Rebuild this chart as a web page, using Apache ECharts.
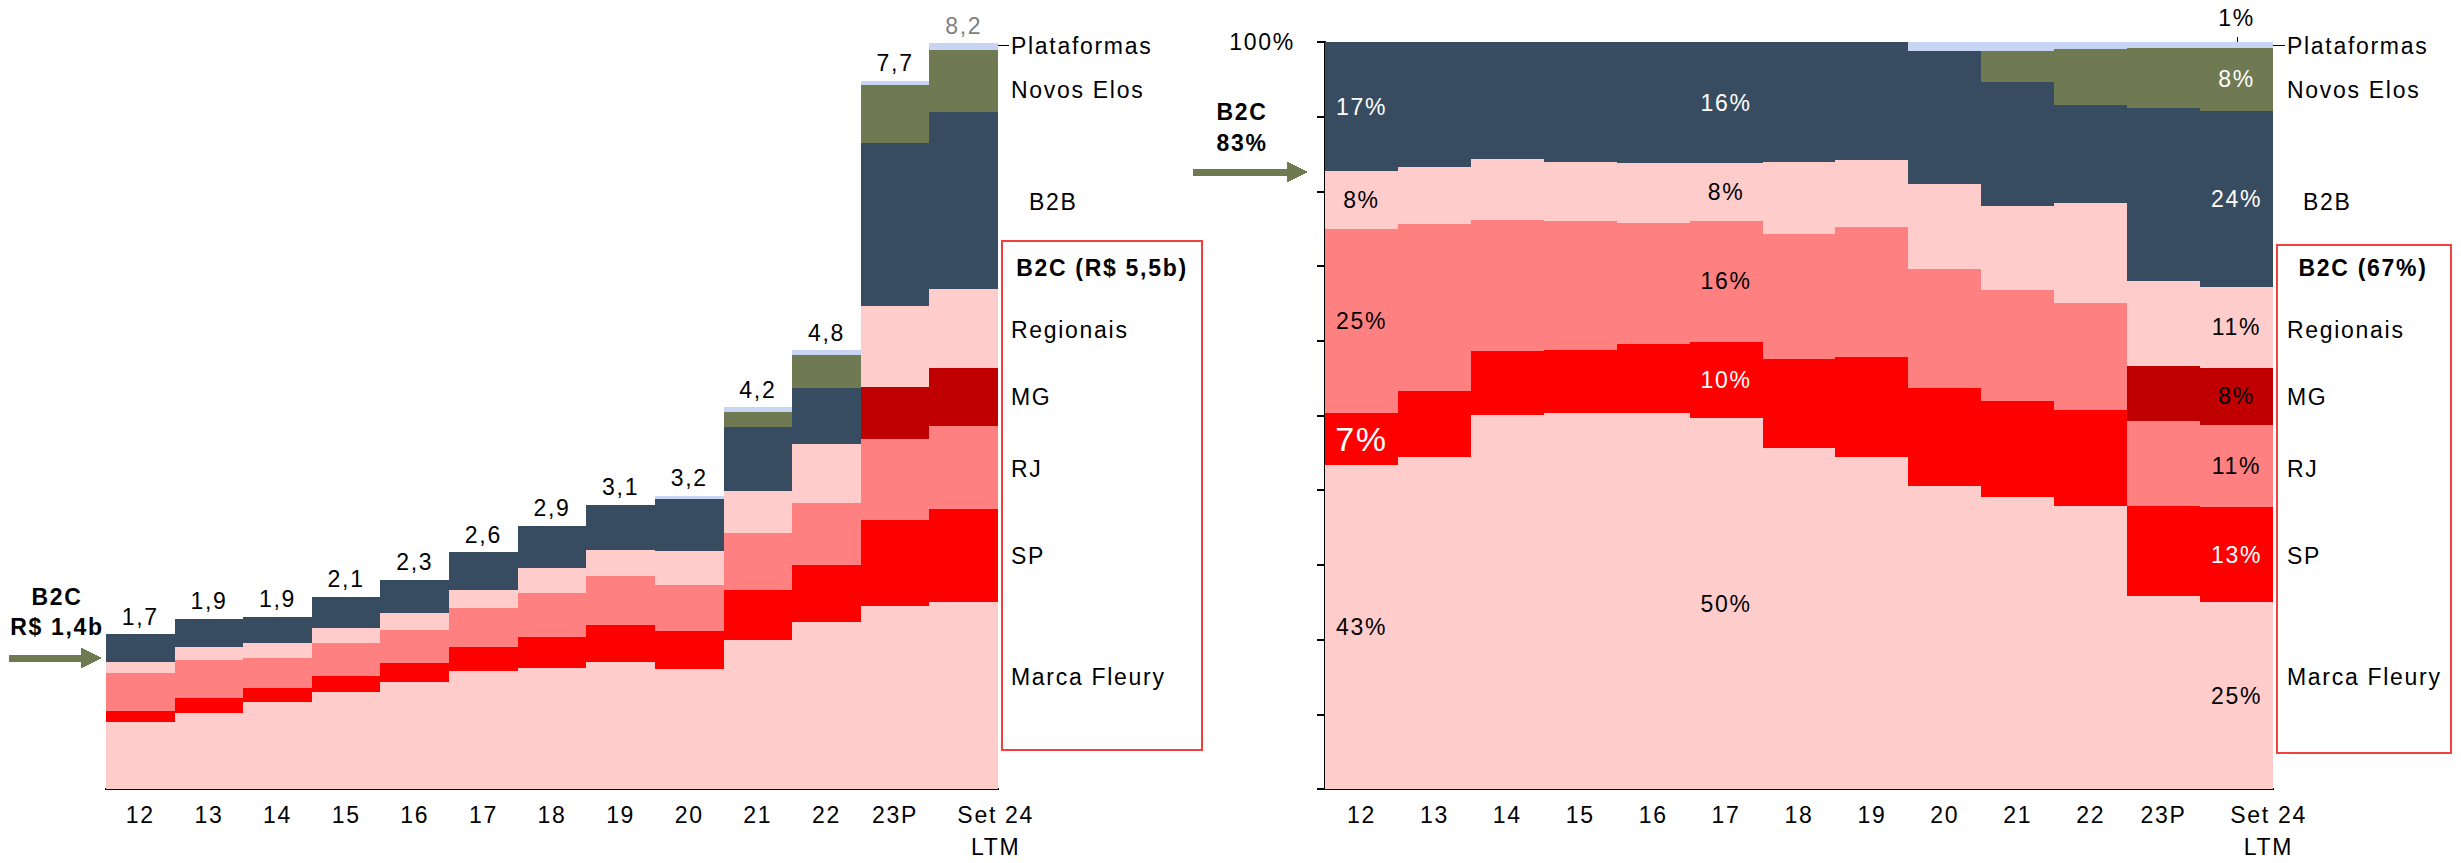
<!DOCTYPE html>
<html>
<head>
<meta charset="utf-8">
<script src="https://cdn.jsdelivr.net/npm/echarts@6/dist/echarts.min.js"></script>
<style>
  html, body { margin: 0; padding: 0; background: #fff; }
  #chart { width: 2461px; height: 863px; }
  /* texto um pouco espaçado como no original */
  #chart svg text { letter-spacing: 1.7px; }
  /* evita frestas entre colunas vizinhas */
  #chart svg path { shape-rendering: crispEdges; }
</style>
</head>
<body>
<div id="chart"></div>
<script>
// categorias (anos)
const categories = ['12', '13', '14', '15', '16', '17', '18', '19', '20', '21', '22', '23P', 'Set 24\nLTM']

// receita em R$ bilhões (gráfico da esquerda)
const marcaFleury = [0.74, 0.84, 0.95, 1.07, 1.17, 1.30, 1.33, 1.39, 1.32, 1.64, 1.83, 2.01, 2.05]
const sp          = [0.12, 0.16, 0.16, 0.17, 0.21, 0.26, 0.34, 0.41, 0.41, 0.54, 0.63, 0.94, 1.03]
const rj          = [0.41, 0.42, 0.33, 0.36, 0.37, 0.43, 0.48, 0.54, 0.51, 0.63, 0.68, 0.89, 0.91]
const mg          = [0, 0, 0, 0, 0, 0, 0, 0, 0, 0, 0, 0.58, 0.63]
const regionais   = [0.13, 0.14, 0.16, 0.17, 0.18, 0.19, 0.28, 0.28, 0.37, 0.46, 0.65, 0.88, 0.87]
const b2b         = [0.30, 0.31, 0.29, 0.34, 0.37, 0.42, 0.46, 0.50, 0.57, 0.70, 0.61, 1.79, 1.94]
const novosElos   = [0, 0, 0, 0, 0, 0, 0, 0, 0, 0.17, 0.37, 0.64, 0.69]
const plataformas = [0, 0, 0, 0, 0, 0, 0, 0, 0.04, 0.05, 0.05, 0.05, 0.07]
const totals      = [1.7, 1.9, 1.9, 2.1, 2.3, 2.6, 2.9, 3.1, 3.2, 4.2, 4.8, 7.7, 8.2]

// participação % (gráfico da direita)
const pctMarcaFleury = [43.4, 44.5, 50.1, 50.4, 50.4, 49.6, 45.7, 44.5, 40.6, 39.1, 37.9, 25.9, 25.0]
const pctSp          = [6.9, 8.8, 8.6, 8.4, 9.2, 10.3, 11.9, 13.3, 13.1, 12.8, 12.8, 12.0, 12.7]
const pctRj          = [24.6, 22.3, 17.5, 17.2, 16.2, 16.2, 16.7, 17.5, 15.9, 14.9, 14.4, 11.3, 11.0]
const pctMg          = [0, 0, 0, 0, 0, 0, 0, 0, 0, 0, 0, 7.4, 7.7]
const pctRegionais   = [7.8, 7.7, 8.1, 8.0, 8.0, 7.7, 9.7, 8.9, 11.4, 11.2, 13.3, 11.4, 10.8]
const pctB2b         = [17.3, 16.7, 15.7, 16.0, 16.2, 16.2, 16.0, 15.8, 17.8, 16.6, 13.1, 23.1, 23.6]
const pctNovosElos   = [0, 0, 0, 0, 0, 0, 0, 0, 0, 4.2, 7.5, 8.1, 8.4]
const pctPlataformas = [0, 0, 0, 0, 0, 0, 0, 0, 1.2, 1.2, 1.0, 0.8, 0.8]
const pctLabelCols   = [0, 5, 12]

const FONT = '"Liberation Sans", Arial, sans-serif'
const colors = {
  marca: '#FFCCCC', sp: '#FF0000', rj: '#FF8080', mg: '#C00000',
  reg: '#FFCCCC', b2b: '#374C61', ne: '#6F7A52', plat: '#C8D4F4'
}

const fmt = (v) => v.toFixed(1).replace('.', ',')

// séries empilhadas: [nome, valores, %, cor, cor do rótulo]
const layers = [
  ['Marca Fleury', marcaFleury, pctMarcaFleury, colors.marca, '#000'],
  ['SP', sp, pctSp, colors.sp, '#fff'],
  ['RJ', rj, pctRj, colors.rj, '#000'],
  ['MG', mg, pctMg, colors.mg, '#000'],
  ['Regionais', regionais, pctRegionais, colors.reg, '#000'],
  ['B2B', b2b, pctB2b, colors.b2b, '#fff'],
  ['Novos Elos', novosElos, pctNovosElos, colors.ne, '#fff'],
  ['Plataformas', plataformas, pctPlataformas, colors.plat, '#000']
]

const series = []

layers.forEach(([name, abs, pct, color, labelColor]) => {
  const isTop = name === 'Plataformas'
  // esquerda: valores absolutos (total em cima da última camada)
  series.push({
    name: name,
    type: 'bar',
    stack: 'abs',
    xAxisIndex: 0,
    yAxisIndex: 0,
    barWidth: '100%',
    itemStyle: { color: color },
    data: abs.map((v, i) => isTop
      ? { value: v, label: { color: i === abs.length - 1 ? '#7F7F7F' : '#000' } }
      : v),
    label: isTop ? {
      show: true,
      position: 'top',
      distance: 6,
      fontFamily: FONT,
      fontSize: 23,
      formatter: (p) => fmt(totals[p.dataIndex])
    } : { show: false }
  })
  // direita: participação
  series.push({
    name: name + ' %',
    type: 'bar',
    stack: 'pct',
    xAxisIndex: 1,
    yAxisIndex: 1,
    barWidth: '100%',
    itemStyle: { color: color },
    data: pct.map((v, i) => {
      if (!pctLabelCols.includes(i) || v <= 0) return v
      const label = {
        show: true,
        position: isTop ? 'top' : 'inside',
        distance: 13,
        color: isTop ? '#000' : labelColor,
        fontFamily: FONT,
        fontSize: (name === 'SP' && i === 0) ? 34 : 23,
        formatter: Math.round(v) + '%'
      }
      return { value: v, label: label }
    })
  })
})

// textos e anotações
const txt = (text, x, y, opts) => ({
  type: 'text',
  style: Object.assign({
    text: text, x: x, y: y,
    fill: '#000',
    font: '23px ' + FONT,
    textAlign: 'left', align: 'left',
    textVerticalAlign: 'middle', verticalAlign: 'middle'
  }, opts || {})
})
const boldCenter = { font: 'bold 23px ' + FONT, textAlign: 'center', align: 'center' }
const arrow = (x1, xh, x2, y) => ({
  type: 'polygon',
  shape: { points: [[x1, y - 3.5], [xh, y - 3.5], [xh, y - 10.5], [x2, y], [xh, y + 10.5], [xh, y + 3.5], [x1, y + 3.5]] },
  style: { fill: colors.ne }
})
const line = (x1, y1, x2, y2) => ({
  type: 'line',
  shape: { x1: x1, y1: y1, x2: x2, y2: y2 },
  style: { stroke: '#000', lineWidth: 1 }
})
const box = (x, y, w, h) => ({
  type: 'rect',
  shape: { x: x, y: y, width: w, height: h },
  style: { fill: 'none', stroke: '#F04040', lineWidth: 1.5 }
})

const sideLabels = (x, xB2b, xTitle, title) => [
  txt('Plataformas', x, 46),
  txt('Novos Elos', x, 90),
  txt('B2B', xB2b, 202),
  txt(title, xTitle, 268, boldCenter),
  txt('Regionais', x, 330),
  txt('MG', x, 397),
  txt('RJ', x, 469),
  txt('SP', x, 556),
  txt('Marca Fleury', x, 677)
]

const graphics = [
  // esquerda
  txt('B2C', 57, 597, boldCenter),
  txt('R$ 1,4b', 57, 627, boldCenter),
  arrow(9, 81, 102, 658),
  line(980, 45, 1009, 45),
  box(1002, 241, 200, 509),
  ...sideLabels(1011, 1029, 1102, 'B2C (R$ 5,5b)'),
  // direita
  txt('B2C', 1242, 112, boldCenter),
  txt('83%', 1242, 143, boldCenter),
  arrow(1193, 1287, 1308, 172),
  line(2237, 37, 2237, 45),
  line(2256, 45, 2285, 45),
  box(2277, 245, 174, 508),
  ...sideLabels(2287, 2303, 2363, 'B2C (67%)')
]

// o rótulo "Set 24 LTM" fica deslocado para a direita no original
const axisData = categories.map((c, i) =>
  i === categories.length - 1 ? { value: c, textStyle: { padding: [0, 0, 0, 64] } } : c)

const xAxisBase = {
  type: 'category',
  data: axisData,
  axisLine: { lineStyle: { color: '#000', width: 2 } },
  axisTick: { show: false },
  axisLabel: { interval: 0, color: '#000', fontFamily: FONT, fontSize: 23, lineHeight: 32, margin: 10 }
}

const myChart = echarts.init(document.getElementById('chart'), null, { renderer: 'svg' })
myChart.setOption({
  animation: false,
  backgroundColor: '#fff',
  textStyle: { fontFamily: FONT },
  grid: [
    { left: 106, top: 15, width: 892, height: 775 },
    { left: 1325, top: 42, width: 948, height: 747 }
  ],
  xAxis: [
    Object.assign({ gridIndex: 0 }, xAxisBase),
    Object.assign({ gridIndex: 1 }, xAxisBase)
  ],
  yAxis: [
    { type: 'value', gridIndex: 0, min: 0, max: 8.5, show: false },
    {
      type: 'value', gridIndex: 1, min: 0, max: 100, interval: 10,
      axisLine: { show: true, lineStyle: { color: '#000', width: 2 } },
      axisTick: { show: true, length: 8, lineStyle: { color: '#000', width: 2 } },
      splitLine: { show: false },
      axisLabel: {
        color: '#000', fontFamily: FONT, fontSize: 23, margin: 30,
        formatter: (v) => v === 100 ? '100%' : ''
      }
    }
  ],
  series: series,
  graphic: graphics
})

window.addEventListener('resize', () => {
  myChart.resize()
})
</script>
</body>
</html>
